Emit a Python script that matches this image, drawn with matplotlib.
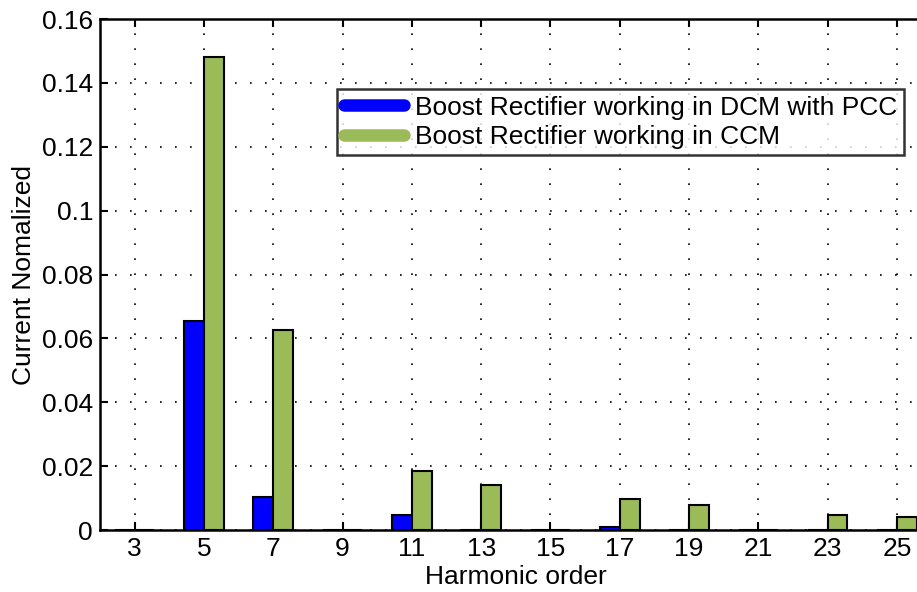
import numpy as np
import matplotlib.pyplot as plt
from matplotlib.lines import Line2D

plt.rcParams['font.family'] = ['Liberation Sans', 'DejaVu Sans']

# harmonic orders and normalized current per converter mode
harmonics = [3, 5, 7, 9, 11, 13, 15, 17, 19, 21, 23, 25]
dcm_pcc = [0.0, 0.0654, 0.0104, 0.0, 0.0047, 0.0, 0.0, 0.0010, 0.0, 0.0, 0.0, 0.0]
ccm = [0.0, 0.148, 0.0626, 0.0, 0.0186, 0.0140, 0.0, 0.0096, 0.0078, 0.0, 0.0047, 0.0040]
labels = ['Boost Rectifier working in DCM with PCC', 'Boost Rectifier working in CCM']

blue = '#0000ff'
green = '#9bbb59'
fs = 19

fig = plt.figure(figsize=(9.17, 5.92), dpi=100)
ax = fig.add_axes([0.109, 0.1047, 0.907, 0.863])

x = np.array(harmonics, dtype=float)
w = 0.57
ax.bar(x - w / 2, dcm_pcc, width=w, color=blue, edgecolor='black', linewidth=1.5, zorder=3)
ax.bar(x + w / 2, ccm, width=w, color=green, edgecolor='black', linewidth=1.5, zorder=3)

ax.set_xlim(2, 26)
ax.set_ylim(0, 0.16)
ax.set_xticks(harmonics)
ax.set_yticks(np.arange(0, 0.161, 0.02))
ax.set_yticklabels(['0', '0.02', '0.04', '0.06', '0.08', '0.1', '0.12', '0.14', '0.16'])

ax.grid(True, color='black', linestyle=(0, (1, 8)), linewidth=1.2, zorder=0)
ax.tick_params(direction='in', length=6, width=1.5, labelsize=fs, top=True, right=True, pad=5)
for s in ax.spines.values():
    s.set_linewidth(1.8)
    s.set_zorder(4)

ax.set_xlabel('Harmonic order', fontsize=fs)
ax.set_ylabel('Current Nomalized', fontsize=fs)
ax.xaxis.set_label_coords(0.5, -0.068)
ax.yaxis.set_label_coords(-0.077, 0.5)

handles = [Line2D([], [], color=blue, linewidth=9, solid_capstyle='round'),
           Line2D([], [], color=green, linewidth=9, solid_capstyle='round')]
leg = fig.legend(handles, labels, loc='upper left', bbox_to_anchor=(337 / 917, 1 - 89 / 592),
                 fontsize=fs, frameon=True, fancybox=False, handlelength=2.3,
                 handletextpad=0.4, borderpad=0.25, labelspacing=0.2, borderaxespad=0)
leg.get_frame().set_edgecolor('black')
leg.get_frame().set_linewidth(1.8)

fig.savefig('out.png', dpi=100)
